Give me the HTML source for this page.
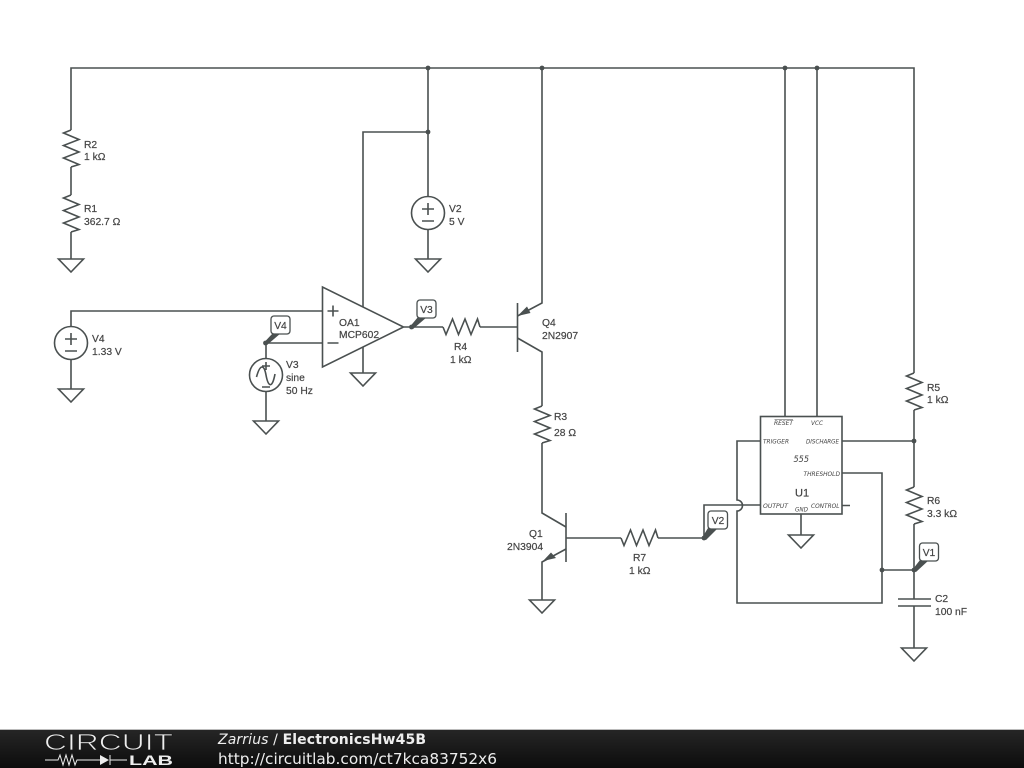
<!DOCTYPE html>
<html><head><meta charset="utf-8"><style>
html,body{margin:0;padding:0;background:#fff}
svg{display:block}
.w{fill:none;stroke:#4a5050;stroke-width:1.6}
.t{font:10.3px "Liberation Sans",sans-serif;fill:#444;stroke:#444;stroke-width:.2}
.p{font:italic 6.5px "DejaVu Sans",sans-serif;fill:#444}
.b{font:10.3px "Liberation Sans",sans-serif;fill:#444;text-anchor:middle;stroke:#444;stroke-width:.2}
</style></head><body>
<svg width="1024" height="768" viewBox="0 0 1024 768" xmlns="http://www.w3.org/2000/svg">
<defs>
<path id="r" class="w" d="M0 0L-7.5 3L8 9.500L-7.5 15.500L8 22L-7.500 28L8 34.500L0 37"/>
<path id="g" class="w" d="M-12.500 0H12.500L0 13Z"/>
<linearGradient id="bar" x1="0" y1="0" x2="0" y2="1"><stop offset="0" stop-color="#262626"/><stop offset="1" stop-color="#0c0c0c"/></linearGradient>
</defs>
<rect width="1024" height="768" fill="#fff"/>
<g class="w">
<path d="M71 130V68H914V373M71 167V195M71 232V259"/>
<path d="M428 68V197M428 230V259M363 307V132H428"/>
<path d="M71 327V311H322.500M71 359V389"/>
<path d="M266 358V343H322.500M266 391V421"/>
<path d="M363 347V373"/>
<path d="M404 327H443M480 327H517.500"/>
<path d="M542 68V303L517.500 316"/>
<path d="M517.500 303V352M517.500 338L542 352V406M542 443V513L566 527"/>
<path d="M566 513V562M566 538H621M658 538H704V505H760"/>
<path d="M566 549L542 562V600"/>
<path d="M785 68V416M817 68V416"/>
<rect x="760.500" y="416.500" width="81.500" height="97.500"/>
<path d="M760 441H737V500A5.500 5.500 0 0 1 737 511V603H882V473H842M842 441H914M842 505.500H850M801 514V535"/>
<path d="M914 410V487M914 524V599M882 570H914M914 606V648M898 599H931M898 606H931"/>
<path d="M322.500 287V367L403.500 327Z"/>
<circle cx="71" cy="343" r="16.500"/><circle cx="428" cy="213" r="16.500"/><circle cx="266" cy="375" r="16.500"/>
<path d="M65 339H77M71 333V345M65 351H77"/>
<path d="M422 209H434M428 203V215M422 221H434"/>
<path d="M262 366H270M266 362V370M262 387H270M256.500 377C260 364 264 364 266 375S272 390 275 374"/>
<path d="M327.500 311H338.500M333 305.500V316.500M327.500 343H338.500"/>
</g>
<use href="#r" x="71" y="130"/><use href="#r" x="71" y="195"/>
<use href="#r" x="542" y="406"/><use href="#r" x="914" y="373"/><use href="#r" x="914" y="487"/>
<use href="#r" transform="translate(443 327) rotate(-90)"/>
<use href="#r" transform="translate(621 538) rotate(-90)"/>
<use href="#g" x="71" y="259"/><use href="#g" x="428" y="259"/><use href="#g" x="71" y="389"/>
<use href="#g" x="266" y="421"/><use href="#g" x="363" y="373"/><use href="#g" x="542" y="600"/>
<use href="#g" x="801" y="535"/><use href="#g" x="914" y="648"/>
<g fill="#4a5050">
<path d="M517.500 316L527 306.500L530.500 313Z"/>
<path d="M543 561L551 552.500L556 558Z"/>
<circle cx="428" cy="68" r="2.400"/><circle cx="542" cy="68" r="2.400"/><circle cx="785" cy="68" r="2.400"/><circle cx="817" cy="68" r="2.400"/>
<circle cx="428" cy="132" r="2.400"/><circle cx="914" cy="441" r="2.400"/><circle cx="882" cy="570" r="2.400"/>
<circle cx="914" cy="570" r="2.400"/><circle cx="704" cy="538" r="2.400"/><circle cx="411.500" cy="327" r="2.400"/><circle cx="265.500" cy="343" r="2.400"/>
<path d="M410.500 326L418 317H427L413 329Z"/>
<path d="M264.500 342L273 333H281L267 345Z"/>
<path d="M702.500 537L708 528H718L706 540Z"/>
<path d="M913 569L920 560H929L916 572Z"/>
</g>
<g fill="#fff" stroke="#4a5050" stroke-width="1.300">
<rect x="417" y="300" width="19" height="18" rx="3"/>
<rect x="271" y="316" width="19" height="18" rx="3"/>
<rect x="708" y="511" width="19.500" height="18" rx="3"/>
<rect x="919.500" y="543" width="19" height="18" rx="3"/>
</g>
<g class="b"><text x="426.500" y="313">V3</text><text x="280.500" y="329">V4</text><text x="718" y="524">V2</text><text x="929" y="556">V1</text></g>
<g class="t">
<text x="84" y="148">R2</text><text x="84" y="160">1 kΩ</text>
<text x="84" y="212">R1</text><text x="84" y="225">362.7 Ω</text>
<text x="449" y="212">V2</text><text x="449" y="225">5 V</text>
<text x="92" y="342">V4</text><text x="92" y="355">1.33 V</text>
<text x="286" y="368">V3</text><text x="286" y="381">sine</text><text x="286" y="394">50 Hz</text>
<text x="339" y="326">OA1</text><text x="339" y="338">MCP602</text>
<text x="542" y="326">Q4</text><text x="542" y="339">2N2907</text>
<text x="454" y="350">R4</text><text x="450" y="363">1 kΩ</text>
<text x="554" y="420">R3</text><text x="554" y="436">28 Ω</text>
<text x="529" y="537">Q1</text><text x="507" y="550">2N3904</text>
<text x="633" y="561">R7</text><text x="629" y="574">1 kΩ</text>
<text x="927" y="391">R5</text><text x="927" y="403">1 kΩ</text>
<text x="927" y="504">R6</text><text x="927" y="517">3.3 kΩ</text>
<text x="935" y="602">C2</text><text x="935" y="615">100 nF</text>
<text x="795" y="496.500" style="font-size:11px">U1</text>
</g>
<text x="793.500" y="462" textLength="15.500" lengthAdjust="spacingAndGlyphs" style="font:italic 9px 'DejaVu Sans',sans-serif" fill="#444">555</text>
<g class="p">
<text x="774" y="425" textLength="19" lengthAdjust="spacingAndGlyphs">RESET</text><text x="811" y="425" textLength="12" lengthAdjust="spacingAndGlyphs">VCC</text>
<text x="763" y="443.500" textLength="26" lengthAdjust="spacingAndGlyphs">TRIGGER</text><text x="806" y="443.500" textLength="33" lengthAdjust="spacingAndGlyphs">DISCHARGE</text>
<text x="803.500" y="476" textLength="36.500" lengthAdjust="spacingAndGlyphs">THRESHOLD</text>
<text x="763" y="508" textLength="25" lengthAdjust="spacingAndGlyphs">OUTPUT</text><text x="811" y="508" textLength="28.500" lengthAdjust="spacingAndGlyphs">CONTROL</text>
<text x="795" y="511.500" textLength="13" lengthAdjust="spacingAndGlyphs">GND</text>
</g>
<path d="M774.500 419.500H793" stroke="#444" stroke-width=".6"/>
<rect y="729" width="1024" height="39" fill="url(#bar)"/>
<rect y="729" width="1024" height="1" fill="#bbb"/>
<text x="44" y="750" textLength="129" lengthAdjust="spacingAndGlyphs" style="font:23.500px 'Liberation Sans',sans-serif;paint-order:fill stroke" fill="#eee" stroke="#1c1c1c" stroke-width=".8">CIRCUIT</text>
<path d="M45 760H58L60 755L63 765L66 755L69 765L72 755L75 765L77 760H100M110 755V765M110 760H127" fill="none" stroke="#eee" stroke-width="1"/>
<path d="M100 755L109 760L100 765Z" fill="#eee"/>
<text x="129" y="765" textLength="44" lengthAdjust="spacingAndGlyphs" style="font:bold 14px 'Liberation Sans',sans-serif" fill="#eee">LAB</text>
<text x="218" y="744" textLength="208" style="font:14px 'DejaVu Sans',sans-serif" fill="#eee"><tspan font-style="italic">Zarrius</tspan> / <tspan font-weight="bold">ElectronicsHw45B</tspan></text>
<text x="218" y="764" textLength="279" lengthAdjust="spacingAndGlyphs" style="font:15px 'DejaVu Sans',sans-serif" fill="#eee">http://circuitlab.com/ct7kca83752x6</text>
</svg>
</body></html>
